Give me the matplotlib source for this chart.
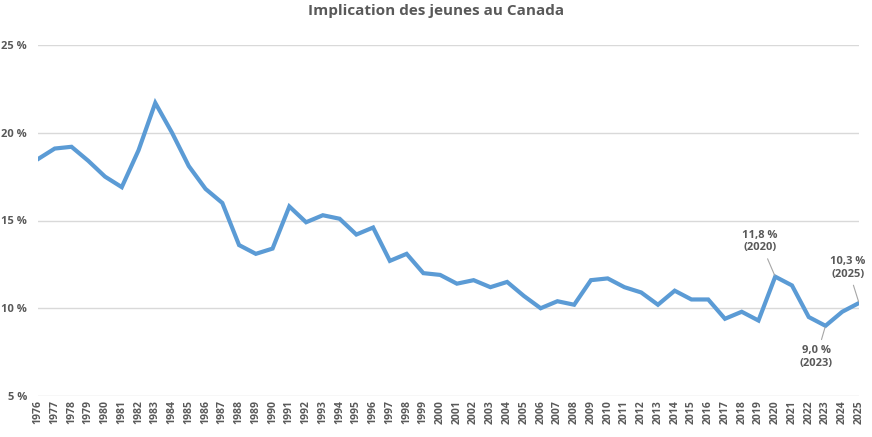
import matplotlib
matplotlib.use('Agg')
import matplotlib.pyplot as plt
import numpy as np

years = list(range(1976, 2026))
taux = [18.5, 19.1, 19.2, 18.4, 17.5, 16.9, 19.0, 21.7, 20.0, 18.1,
        16.8, 16.0, 13.6, 13.1, 13.4, 15.8, 14.9, 15.3, 15.1, 14.2,
        14.6, 12.7, 13.1, 12.0, 11.9, 11.4, 11.6, 11.2, 11.5, 10.7,
        10.0, 10.4, 10.2, 11.6, 11.7, 11.2, 10.9, 10.2, 11.0, 10.5,
        10.5, 9.4, 9.8, 9.3, 11.8, 11.3, 9.5, 9.0, 9.8, 10.3]
y_ticks = [5, 10, 15, 20, 25]

# annotations: year, label, offset in pixels of the text
notes = [(2020, '11,8 %\n(2020)', (-15, 35)),
         (2023, '9,0 %\n(2023)', (-9, -31)),
         (2025, '10,3 %\n(2025)', (-11, 35))]

plt.rcParams['font.family'] = ['Open Sans', 'DejaVu Sans']
txt_color = '#595959'

fig = plt.figure(figsize=(8.72, 4.37), dpi=100)
ax = fig.add_axes([38 / 872, 1 - 396 / 437, (859 - 38) / 872, (396 - 45) / 437])

ax.plot(years, taux, color='#5B9BD5', linewidth=3, solid_joinstyle='miter', zorder=3)

ax.set_xlim(1976, 2025)
ax.set_ylim(5, 25)
ax.set_yticks(y_ticks)
ax.set_yticklabels(['%d %%' % v for v in y_ticks])
ax.set_xticks(years)
ax.set_xticklabels([str(y) for y in years], rotation=90)
ax.grid(axis='y', color='#D9D9D9', linewidth=1)
ax.set_axisbelow(True)
for s in ax.spines.values():
    s.set_visible(False)
ax.tick_params(axis='both', length=0, colors=txt_color, labelsize=7.5)
ax.tick_params(axis='y', labelsize=8, pad=8)
ax.tick_params(axis='x', pad=3)
for lab in ax.get_xticklabels() + ax.get_yticklabels():
    lab.set_fontweight('bold')

for yr, label, off in notes:
    val = taux[years.index(yr)]
    ax.annotate(label, xy=(yr, val), xytext=off, textcoords='offset pixels',
                ha='center', va='center', fontsize=8, fontweight='bold',
                color=txt_color, annotation_clip=False,
                arrowprops=dict(arrowstyle='-', color='#A6A6A6', lw=0.8,
                                shrinkA=2, shrinkB=1))

fig.suptitle('Implication des jeunes au Canada', x=0.5, y=0.99,
             fontsize=11, fontweight='bold', color=txt_color)

fig.savefig('out.png', dpi=100)
